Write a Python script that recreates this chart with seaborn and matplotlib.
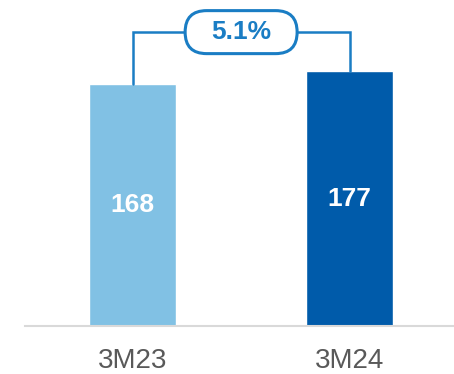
import matplotlib
matplotlib.use("Agg")
import matplotlib.pyplot as plt
import seaborn as sns
import pandas as pd
from matplotlib.patches import FancyBboxPatch
from matplotlib.transforms import IdentityTransform

periods = ["3M23", "3M24"]
values = [168, 177]
growth_label = "5.1%"
bar_colors = ["#81C1E4", "#005BAA"]

sns.set_theme(style="white")
plt.rcParams["font.family"] = ["Liberation Sans", "DejaVu Sans"]

df = pd.DataFrame({"period": periods, "value": values})

fig = plt.figure(figsize=(4.54, 3.74), dpi=100)
W, H = 454, 374
ax = fig.add_axes([25 / W, 48 / H, 429 / W, 326 / H])

sns.barplot(data=df, x="period", y="value", hue="period",
            palette=bar_colors, width=0.4, legend=False, ax=ax,
            saturation=1)

ax.set_xlim(-0.495, 1.48)
ax.set_ylim(0, 226.3)
ax.set_xlabel("")
ax.set_ylabel("")
ax.set_yticks([])
ax.tick_params(axis="x", length=0, pad=16, labelsize=20, labelcolor="#595959")
for s in ["top", "right", "left"]:
    ax.spines[s].set_visible(False)
ax.spines["bottom"].set_color("#D9D9D9")
ax.spines["bottom"].set_linewidth(1.5)

# value labels inside bars
for i, v in enumerate(values):
    ax.text(i, v * 0.5, f"{v}", ha="center", va="center",
            color="white", fontsize=19, fontweight="bold")

# growth bracket
blue = "#1A7DC4"
bracket_y = 204
ax.plot([0, 0, 1, 1], [values[0], bracket_y, bracket_y, values[1]],
        color=blue, lw=1.8, clip_on=False, solid_joinstyle="miter")

fig.canvas.draw()
cx, cy = ax.transData.transform((0.5, bracket_y))
pw, ph = 112, 43
pill = FancyBboxPatch((cx - pw / 2, cy - ph / 2), pw, ph,
                      boxstyle=f"round,pad=0,rounding_size={ph / 2}",
                      fc="white", ec=blue, lw=2.2,
                      transform=IdentityTransform(), zorder=5, clip_on=False)
ax.add_artist(pill)
ax.text(0.5, bracket_y, growth_label, ha="center", va="center",
        color=blue, fontsize=19, fontweight="bold", zorder=6, clip_on=False)

fig.savefig("out.png", dpi=100)
